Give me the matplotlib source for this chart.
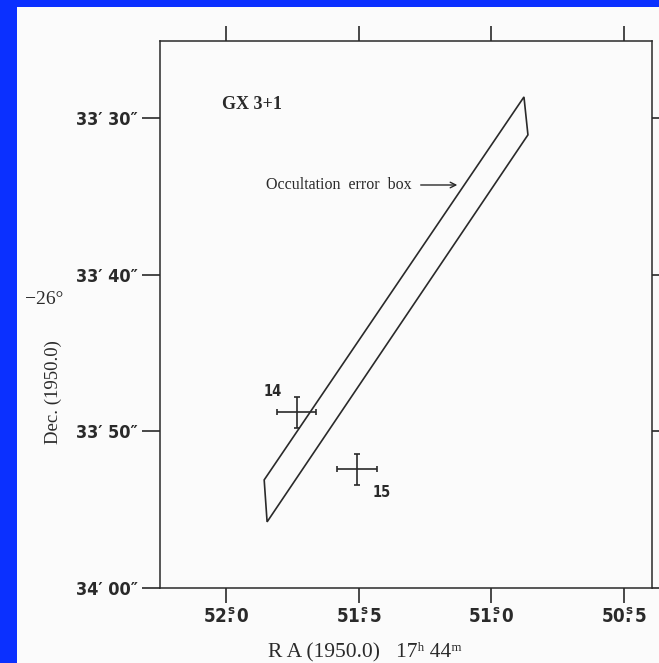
import numpy as np
import matplotlib
matplotlib.use('Agg')
import matplotlib.pyplot as plt
from matplotlib.patches import Rectangle

# occultation error box corners (RA seconds, Dec arcsec past -26 33')
box_ra = [51.857, 50.877, 50.862, 51.846]
box_dec = [53.1, 28.66, 31.08, 55.78]

# X-ray sources with error bars
src_id = ['14', '15']
src_ra = [51.734, 51.508]
src_dec = [48.78, 52.42]
src_ra_err = [0.074, 0.075]
src_dec_err = [0.98, 0.99]
src_offset = [(-17, 15), (18, -17)]

ra_ticks = [52.0, 51.5, 51.0, 50.5]
ra_labels = [r'$52\overset{s}{.}0$', r'$51\overset{s}{.}5$', r'$51\overset{s}{.}0$', r'$50\overset{s}{.}5$']
dec_ticks = [30, 40, 50, 60]
dec_labels = ['33\u2032 30\u2033', '33\u2032 40\u2033', '33\u2032 50\u2033', '34\u2032 00\u2033']

plt.rcParams['mathtext.fontset'] = 'custom'
plt.rcParams['mathtext.rm'] = 'DejaVu Sans:bold:stretch=condensed'
plt.rcParams['mathtext.it'] = 'DejaVu Sans:bold:stretch=condensed'
plt.rcParams['mathtext.bf'] = 'DejaVu Sans:bold:stretch=condensed'

W, H = 659, 663
ink = '#2a2a2a'
serif = ['Liberation Serif', 'DejaVu Serif']

fig = plt.figure(figsize=(W / 100, H / 100), dpi=100, facecolor='#0b30ff')
fig.patches.append(Rectangle((17 / W, 0), 1, (H - 7) / H, transform=fig.transFigure,
                             facecolor='#fbfbfb', edgecolor='none', zorder=-5))

ax = fig.add_axes([160 / W, 1 - 588 / H, 492 / W, 547 / H])
ax.set_facecolor('#fbfbfb')

ax.fill(box_ra, box_dec, facecolor='none', edgecolor=ink, linewidth=1.2)
ax.errorbar(src_ra, src_dec, xerr=src_ra_err, yerr=src_dec_err, fmt='none',
            ecolor=ink, elinewidth=1.2, capsize=2.5, capthick=1.2)
for i, name in enumerate(src_id):
    ax.annotate(name, (src_ra[i], src_dec[i]), xytext=src_offset[i], textcoords='offset points',
                ha='center', va='center', fontsize=10.5, fontweight='bold', fontstretch='condensed',
                family='DejaVu Sans', color=ink)

ax.text(51.902, 29.17, 'GX 3+1', fontsize=13, family=serif, fontweight='bold',
        ha='center', va='center', color=ink)
ax.annotate('', xy=(51.118, 34.28), xytext=(51.277, 34.28),
            arrowprops=dict(arrowstyle='->', color=ink, lw=1.0))
ax.text(51.299, 34.28, 'Occultation  error  box', fontsize=11.5, family=serif,
        ha='right', va='center', color=ink)

ax.set_xlim(52.25, 50.394)
ax.set_ylim(60, 25.09)
ax.set_xticks(ra_ticks)
ax.set_xticklabels(ra_labels, fontsize=13.5, color=ink)
ax.set_yticks(dec_ticks)
ax.set_yticklabels(dec_labels, fontsize=13, fontweight='bold', fontstretch='condensed',
                   family='DejaVu Sans', color=ink)
ax.tick_params(axis='x', direction='out', length=11, width=1.2, top=True, pad=3, colors=ink)
ax.tick_params(axis='y', direction='out', length=13, width=1.2, right=True, pad=3, colors=ink)
for spine in ax.spines.values():
    spine.set_linewidth(1.1)
    spine.set_color(ink)

fig.text(44 / W, 1 - 300 / H, '\u221226\u00b0', fontsize=14, family=serif, ha='center', va='center', color=ink)
fig.text(53 / W, 1 - 392 / H, 'Dec. (1950.0)', fontsize=13.5, family=serif, rotation=90,
         ha='center', va='center', color=ink)
fig.text(365 / W, 1 - 652 / H, 'R A (1950.0)   17\u02b0 44\u1d50', fontsize=15.5, family=serif,
         ha='center', va='center', color=ink)

fig.savefig('out.png', dpi=100, facecolor=fig.get_facecolor())
